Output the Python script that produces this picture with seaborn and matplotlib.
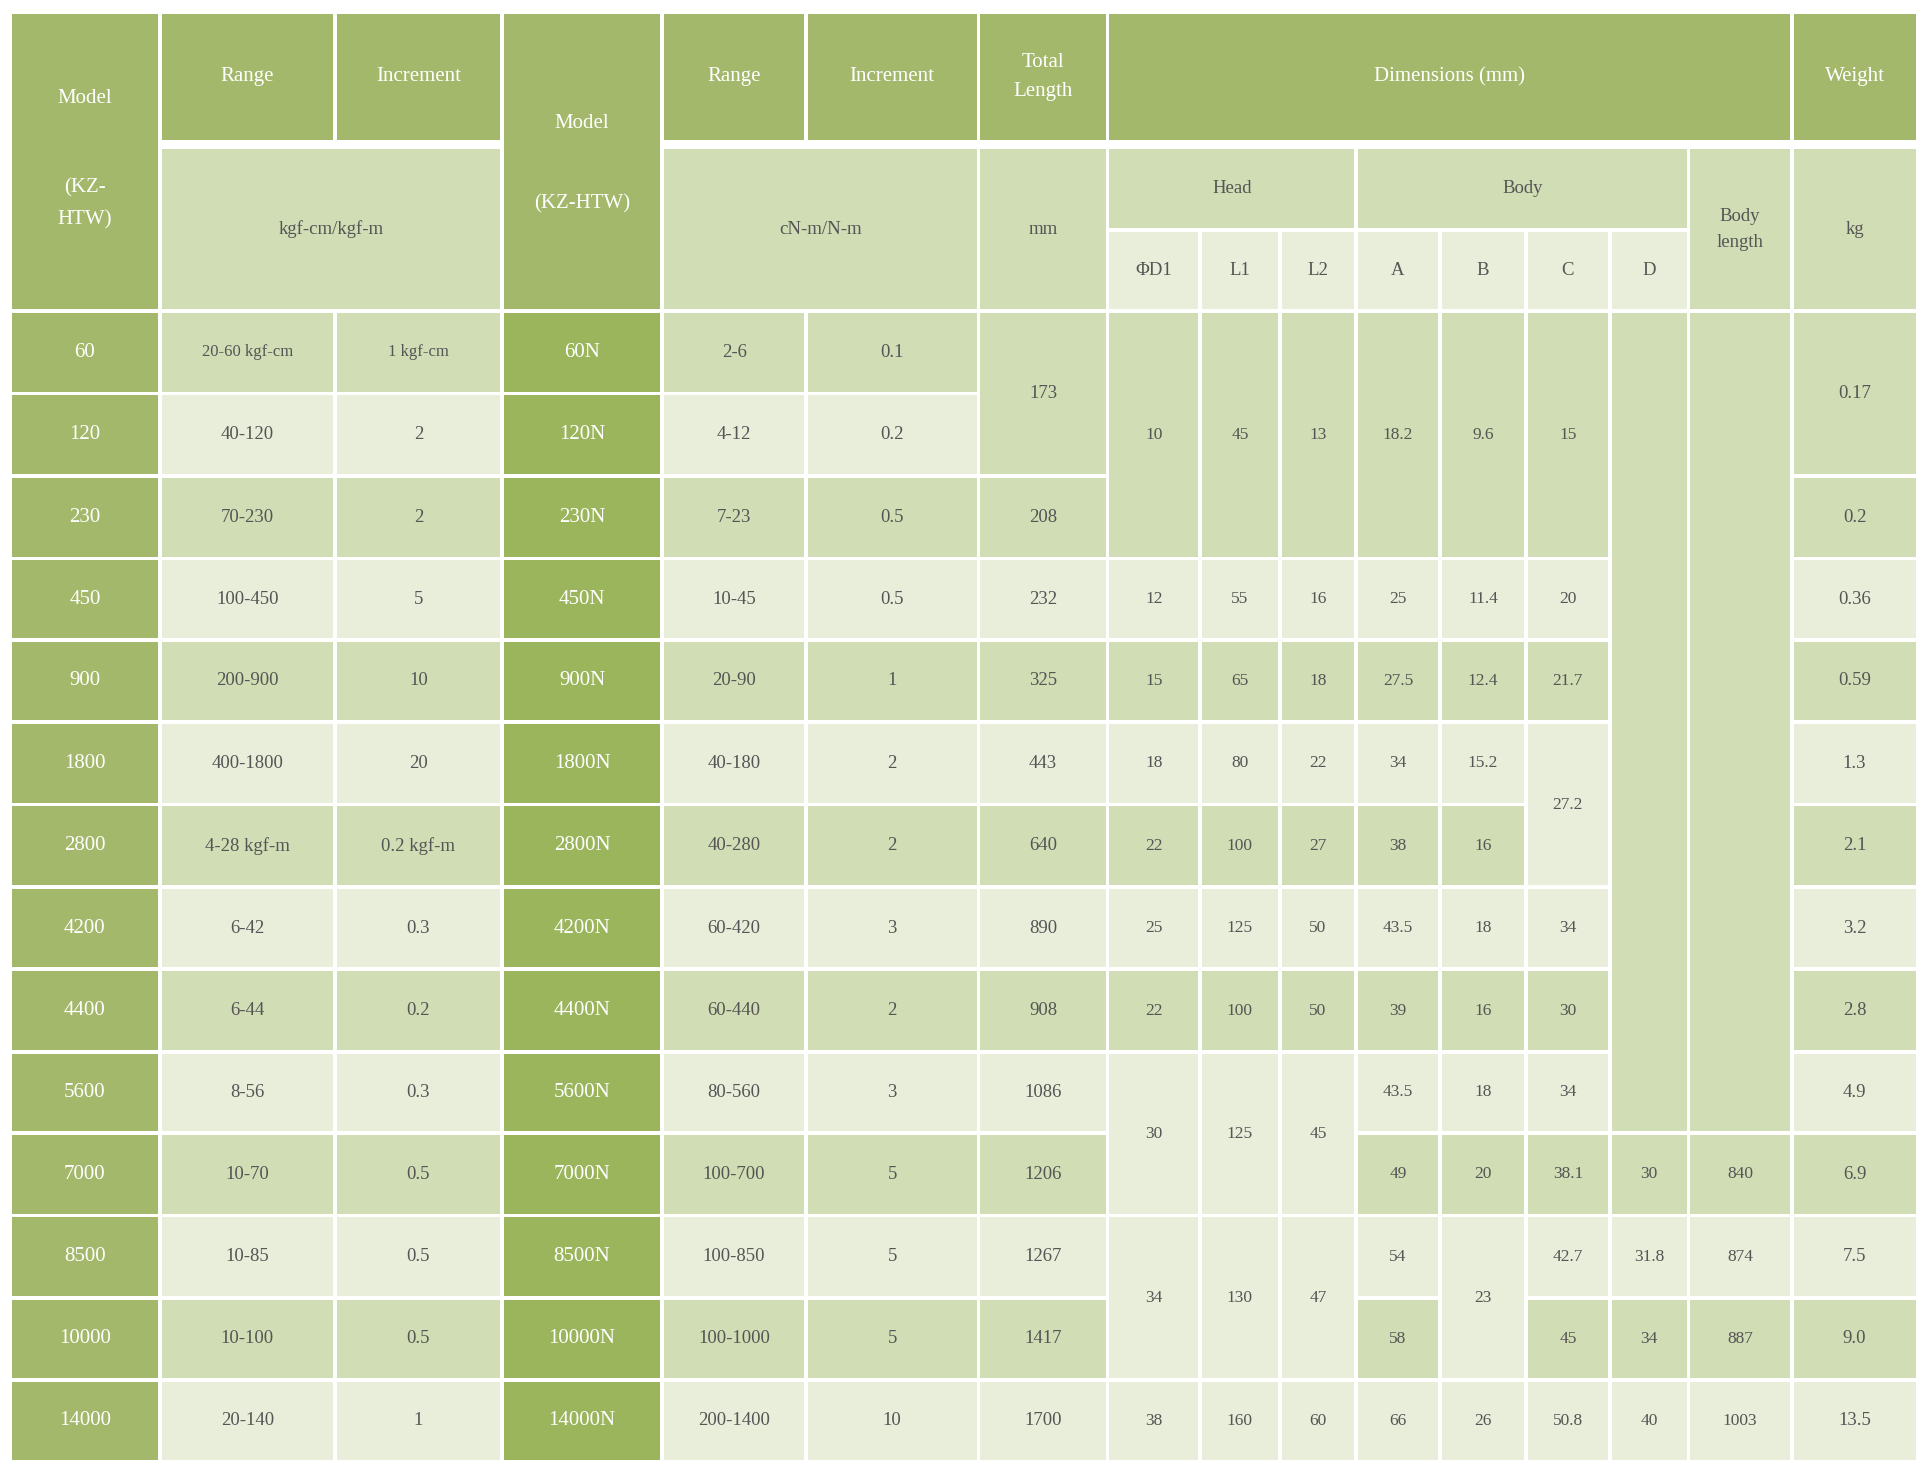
import matplotlib
matplotlib.use("Agg")
import matplotlib.pyplot as plt
from matplotlib.patches import Rectangle
import seaborn as sns

sns.set_theme(style="white")
plt.rcParams["font.family"] = ["Liberation Serif", "DejaVu Serif"]

# ---- data ----
models = ["60", "120", "230", "450", "900", "1800", "2800", "4200", "4400",
          "5600", "7000", "8500", "10000", "14000"]
range_kgf = ["20-60 kgf-cm", "40-120", "70-230", "100-450", "200-900", "400-1800",
             "4-28 kgf-m", "6-42", "6-44", "8-56", "10-70", "10-85", "10-100", "20-140"]
inc_kgf = ["1 kgf-cm", "2", "2", "5", "10", "20", "0.2 kgf-m", "0.3", "0.2", "0.3",
           "0.5", "0.5", "0.5", "1"]
models_n = [m + "N" for m in models]
range_n = ["2-6", "4-12", "7-23", "10-45", "20-90", "40-180", "40-280", "60-420",
           "60-440", "80-560", "100-700", "100-850", "100-1000", "200-1400"]
inc_n = ["0.1", "0.2", "0.5", "0.5", "1", "2", "2", "3", "2", "3", "5", "5", "5", "10"]
N = None  # merged with the cell above
total_len = ["173", N, "208", "232", "325", "443", "640", "890", "908", "1086",
             "1206", "1267", "1417", "1700"]
head_d1 = ["10", N, N, "12", "15", "18", "22", "25", "22", "30", N, "34", N, "38"]
head_l1 = ["45", N, N, "55", "65", "80", "100", "125", "100", "125", N, "130", N, "160"]
head_l2 = ["13", N, N, "16", "18", "22", "27", "50", "50", "45", N, "47", N, "60"]
body_a = ["18.2", N, N, "25", "27.5", "34", "38", "43.5", "39", "43.5", "49", "54", "58", "66"]
body_b = ["9.6", N, N, "11.4", "12.4", "15.2", "16", "18", "16", "18", "20", "23", N, "26"]
body_c = ["15", N, N, "20", "21.7", "27.2", N, "34", "30", "34", "38.1", "42.7", "45", "50.8"]
body_d = [""] + [N] * 9 + ["30", "31.8", "34", "40"]
body_length = [""] + [N] * 9 + ["840", "874", "887", "1003"]
weight = ["0.17", N, "0.2", "0.36", "0.59", "1.3", "2.1", "3.2", "2.8", "4.9",
          "6.9", "7.5", "9.0", "13.5"]

columns = [models, range_kgf, inc_kgf, models_n, range_n, inc_n, total_len,
           head_d1, head_l1, head_l2, body_a, body_b, body_c, body_d,
           body_length, weight]

# ---- layout (reference pixel grid) ----
xs = [8, 130, 272, 408, 538, 655, 795, 900, 975, 1040, 1102, 1170, 1240,
      1308, 1372, 1456, 1558]
ys = [253, 320, 387, 454, 520, 587, 654, 721, 788, 855, 921, 988, 1055, 1122, 1188]

DARK = "#a3b86a"
DARKER = "#9bb55c"
MID = "#d1ddb4"
LIGHT = "#e9eeda"
TXT = "#555555"

fig = plt.figure(figsize=(19.26, 14.7), dpi=100)
ax = fig.add_axes([0, 0, 1, 1])
ax.set_xlim(0, 1565)
ax.set_ylim(1195, 0)
ax.axis("off")


def cell(x0, x1, y0, y1, color, text="", tcolor=TXT, size=13, weight="normal", ty=None):
    ax.add_patch(Rectangle((x0 + 1.5, y0 + 1.5), x1 - x0 - 3, y1 - y0 - 3,
                           facecolor=color, edgecolor="none"))
    if text:
        ax.text((x0 + x1) / 2, ty if ty is not None else (y0 + y1) / 2, text,
                ha="center", va="center", color=tcolor, fontsize=size,
                fontweight=weight, linespacing=1.7)


# ---- header ----
H = dict(tcolor="white", size=15)
S = dict(size=13.5)
cell(xs[0], xs[1], 10, 253, DARK, "Model", ty=80, **H)
ax.text((xs[0] + xs[1]) / 2, 166, "(KZ-\nHTW)", ha="center", va="center",
        color="white", fontsize=15, linespacing=1.9)
cell(xs[1], xs[2], 10, 115, DARK, "Range", **H)
cell(xs[2], xs[3], 10, 115, DARK, "Increment", **H)
cell(xs[1], xs[3], 120, 253, MID, "kgf-cm/kgf-m", **S)
cell(xs[3], xs[4], 10, 253, DARK, "Model", ty=100, **H)
ax.text((xs[3] + xs[4]) / 2, 166, "(KZ-HTW)", ha="center", va="center",
        color="white", fontsize=15)
cell(xs[4], xs[5], 10, 115, DARK, "Range", **H)
cell(xs[5], xs[6], 10, 115, DARK, "Increment", **H)
cell(xs[4], xs[6], 120, 253, MID, "cN-m/N-m", **S)
cell(xs[6], xs[7], 10, 115, DARK, "Total\nLength", **H)
cell(xs[6], xs[7], 120, 253, MID, "mm", **S)
cell(xs[7], xs[15], 10, 115, DARK, "Dimensions (mm)", **H)
cell(xs[7], xs[10], 120, 187, MID, "Head", **S)
cell(xs[10], xs[14], 120, 187, MID, "Body", **S)
cell(xs[14], xs[15], 120, 253, MID, "Body\nlength", **S)
for i, lab in enumerate(["ΦD1", "L1", "L2", "A", "B", "C", "D"]):
    cell(xs[7 + i], xs[8 + i], 187, 253, LIGHT, lab, **S)
cell(xs[15], xs[16], 10, 115, DARK, "Weight", **H)
cell(xs[15], xs[16], 120, 253, MID, "kg", **S)

# ---- body ----
nrows = len(models)
for c, col in enumerate(columns):
    r = 0
    while r < nrows:
        span = 1
        while r + span < nrows and col[r + span] is None:
            span += 1
        y0, y1 = ys[r], ys[r + span]
        if c == 0:
            cell(xs[c], xs[c + 1], y0, y1, DARK, col[r], tcolor="white", size=15)
        elif c == 3:
            cell(xs[c], xs[c + 1], y0, y1, DARKER, col[r], tcolor="white", size=15)
        else:
            bg = MID if r % 2 == 0 else LIGHT
            small = c in (1, 2) and "kgf" in col[r]
            size = 12 if (small and r == 0) else (13.5 if c <= 6 or c == 15 else 12.5)
            cell(xs[c], xs[c + 1], y0, y1, bg, col[r], size=size)
        r += span

fig.savefig("out.png", dpi=100, facecolor="white")
